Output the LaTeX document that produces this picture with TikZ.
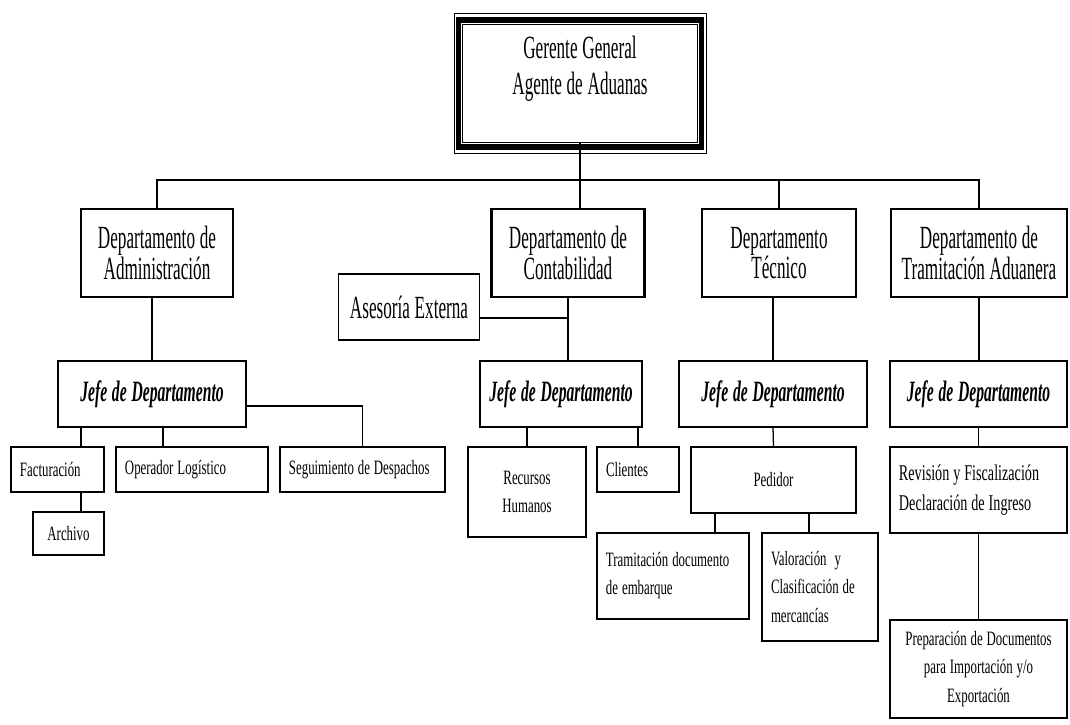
\documentclass[tikz,border=0pt]{standalone}
\usepackage{fontspec}
\setmainfont{Liberation Serif}
\newfontfamily\condfont{Liberation Serif}[FakeStretch=0.53]
\newfontfamily\narrowfont{Liberation Serif}[FakeStretch=0.63]
\newcommand\condsp{\spaceskip=3.4pt\relax}
\newcommand\narrowsp{\spaceskip=2.8pt\relax}
\begin{document}
\begin{tikzpicture}[x=0.025cm, y=-0.025cm,
    every node/.style={outer sep=0pt},
    topbox/.style={draw, line width=.6pt, minimum width=5.875cm, minimum height=2.95cm, align=center,
      font=\condfont\fontsize{23}{25.5}\selectfont\condsp},
    dept/.style={draw, line width=1.8pt, minimum height=2.2cm, align=center,
      font=\condfont\fontsize{23}{21.5}\selectfont\condsp},
    jefe/.style={draw, line width=1.3pt, minimum height=1.65cm,
      font=\condfont\fontsize{21}{21}\selectfont\bfseries\itshape\condsp},
    unit/.style={draw, line width=1pt, inner xsep=0.225cm, align=left,
      font=\narrowfont\fontsize{14.5}{20}\selectfont, execute at begin node=\narrowsp},
    link/.style={line width=.9pt}]
  \useasboundingbox (0,0) rectangle (1070,724);

  \node[topbox] (gg) at (580,83) {Gerente General\\Agente de Aduanas\\[-8pt]\strut};
  \draw[line width=3.6pt] ([shift={(-4,-4)}]gg.north west) rectangle ([shift={(4,5)}]gg.south east);
  \draw[line width=.6pt] ([shift={(-8.5,-11)}]gg.north west) rectangle ([shift={(8.5,11)}]gg.south east);

  \node[dept, minimum width=3.8cm] (adm) at (157,253) {Departamento de\\Administración};
  \node[dept, minimum width=3.825cm] (con) at (568,253) {Departamento de\\Contabilidad};
  \node[dept, minimum width=3.85cm] (tec) at (779,253) {Departamento\\Técnico};
  \node[dept, minimum width=4.4cm] (tra) at (979,253) {Departamento de\\Tramitación Aduanera};
  \node[dept, line width=1.3pt, minimum width=3.525cm, minimum height=1.65cm] (ase) at (409,307) {Asesoría Externa};

  \node[jefe, minimum width=4.7cm] (ja) at (152,394) {Jefe de Departamento};
  \node[jefe, minimum width=4.05cm] (jc) at (561,394) {Jefe de Departamento};
  \node[jefe, minimum width=4.7cm] (jt) at (773,394) {Jefe de Departamento};
  \node[jefe, minimum width=4.425cm] (jr) at (978.5,394) {Jefe de Departamento};

  \node[unit, text width=1.875cm, minimum height=1.125cm] (fac) at (57.5,469.5) {Facturación};
  \node[unit, text width=1.325cm, minimum height=1.075cm, align=center] (arc) at (68.5,533.5) {Archivo};
  \node[unit, text width=3.35cm, minimum height=1.125cm] (ope) at (192,469.5) {Operador Logístico};
  \node[unit, text width=3.675cm, minimum height=1.125cm] (seg) at (362.5,469.5) {Seguimiento de Despachos};
  \node[unit, text width=2.5cm, minimum height=2.25cm, align=center] (rh) at (527,492) {Recursos\\Humanos};
  \node[unit, text width=1.6cm, minimum height=1.125cm] (cli) at (638,469.5) {Clientes};
  \node[unit, text width=3.675cm, minimum height=1.65cm, align=center] (ped) at (773.5,480) {Pedidor};
  \node[unit, text width=3.35cm, minimum height=2.15cm] (tdoc) at (673,576) {Tramitación documento\\de embarque};
  \node[unit, text width=2.45cm, minimum height=2.7cm] (val) at (820,587) {Valoración~~y\\Clasificación de\\mercancías};
  \node[unit, text width=3.975cm, minimum height=2.15cm, font=\narrowfont\fontsize{16}{21}\selectfont] (rev) at (978.5,490) {Revisión y Fiscalización\\Declaración de Ingreso};
  \node[unit, text width=3.975cm, minimum height=2.45cm, align=center] (pre) at (978.5,669) {Preparación de Documentos\\para Importación y/o\\Exportación};

  \coordinate (bus) at (580,180);
  \coordinate (aj) at (0,318);
  \coordinate (sy) at (0,406);
  \coordinate (fx) at (81,0);
  \coordinate (ox) at (163,0);
  \coordinate (tx) at (715,0);
  \coordinate (vx) at (809,0);

  \draw[link] (gg.south) -- (gg.south |- con.north);
  \draw[link] (adm.north) |- (bus) -| (tra.north);
  \draw[link] (tec.north) -- (tec.north |- bus);
  \draw[link] (ja.north) -- (ja.north |- adm.south);
  \draw[link] (con.south) -- (con.south |- jc.north);
  \draw[link] (ase.east |- aj) -- (aj -| con.south);
  \draw[link] (jt.north) -- (jt.north |- tec.south);
  \draw[link] (tra.south) -- (tra.south |- jr.north);
  \draw[link] (fx |- ja.south) -- (fx |- fac.north);
  \draw[link] (fx |- fac.south) -- (fx |- arc.north);
  \draw[link] (ox |- ja.south) -- (ox |- ope.north);
  \draw[link] (ja.east |- sy) -| (seg.north);
  \draw[link] (rh.north) -- (rh.north |- jc.south);
  \draw[link] (cli.north) -- (cli.north |- jc.south);
  \draw[link] (jt.south) -- (ped.north);
  \draw[link] (tx |- ped.south) -- (tx |- tdoc.north);
  \draw[link] (vx |- ped.south) -- (vx |- val.north);
  \draw[link] (jr.south) -- (rev.north);
  \draw[link] (rev.south) -- (pre.north);
\end{tikzpicture}
\end{document}
